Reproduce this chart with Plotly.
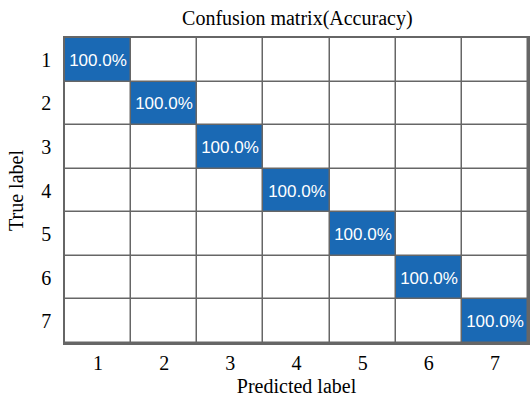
import plotly.graph_objects as go

labels = ["1", "2", "3", "4", "5", "6", "7"]
accuracy = [
    [100.0, 0, 0, 0, 0, 0, 0],
    [0, 100.0, 0, 0, 0, 0, 0],
    [0, 0, 100.0, 0, 0, 0, 0],
    [0, 0, 0, 100.0, 0, 0, 0],
    [0, 0, 0, 0, 100.0, 0, 0],
    [0, 0, 0, 0, 0, 100.0, 0],
    [0, 0, 0, 0, 0, 0, 100.0],
]

text = [[(f"{v:.1f}%" if v > 0 else "") for v in row] for row in accuracy]

fig = go.Figure(go.Heatmap(
    z=accuracy, x=labels, y=labels,
    text=text, texttemplate="%{text}",
    textfont=dict(family="Liberation Sans, Arial", size=17, color="white"),
    colorscale=[[0, "white"], [1, "#1a69b4"]],
    zmin=0, zmax=100, showscale=False,
    xgap=1.5, ygap=1.5, hoverinfo="skip",
))

serif = "Liberation Serif, Times New Roman, serif"
fig.update_layout(
    width=530, height=398,
    margin=dict(l=65, r=0, t=38, b=55),
    paper_bgcolor="white", plot_bgcolor="#666666",
    title=dict(text="Confusion matrix(Accuracy)", x=0.561, xanchor="center",
               y=0.955, yanchor="middle",
               font=dict(family=serif, size=20, color="black")),
    font=dict(family=serif, size=20, color="black"),
)
fig.update_xaxes(title=dict(text="Predicted label", font=dict(family=serif, size=20), standoff=6),
                 tickfont=dict(family=serif, size=20), showgrid=False, zeroline=False,
                 showline=True, linecolor="#666666", linewidth=1.5, mirror=True, ticks="",
                 ticklabelstandoff=1)
fig.update_yaxes(title=dict(text="True label", font=dict(family=serif, size=20), standoff=12),
                 tickfont=dict(family=serif, size=20), showgrid=False, zeroline=False,
                 autorange="reversed",
                 showline=True, linecolor="#666666", linewidth=1.5, mirror=True, ticks="",
                 ticklabelstandoff=8)

fig.write_html("out.html")
